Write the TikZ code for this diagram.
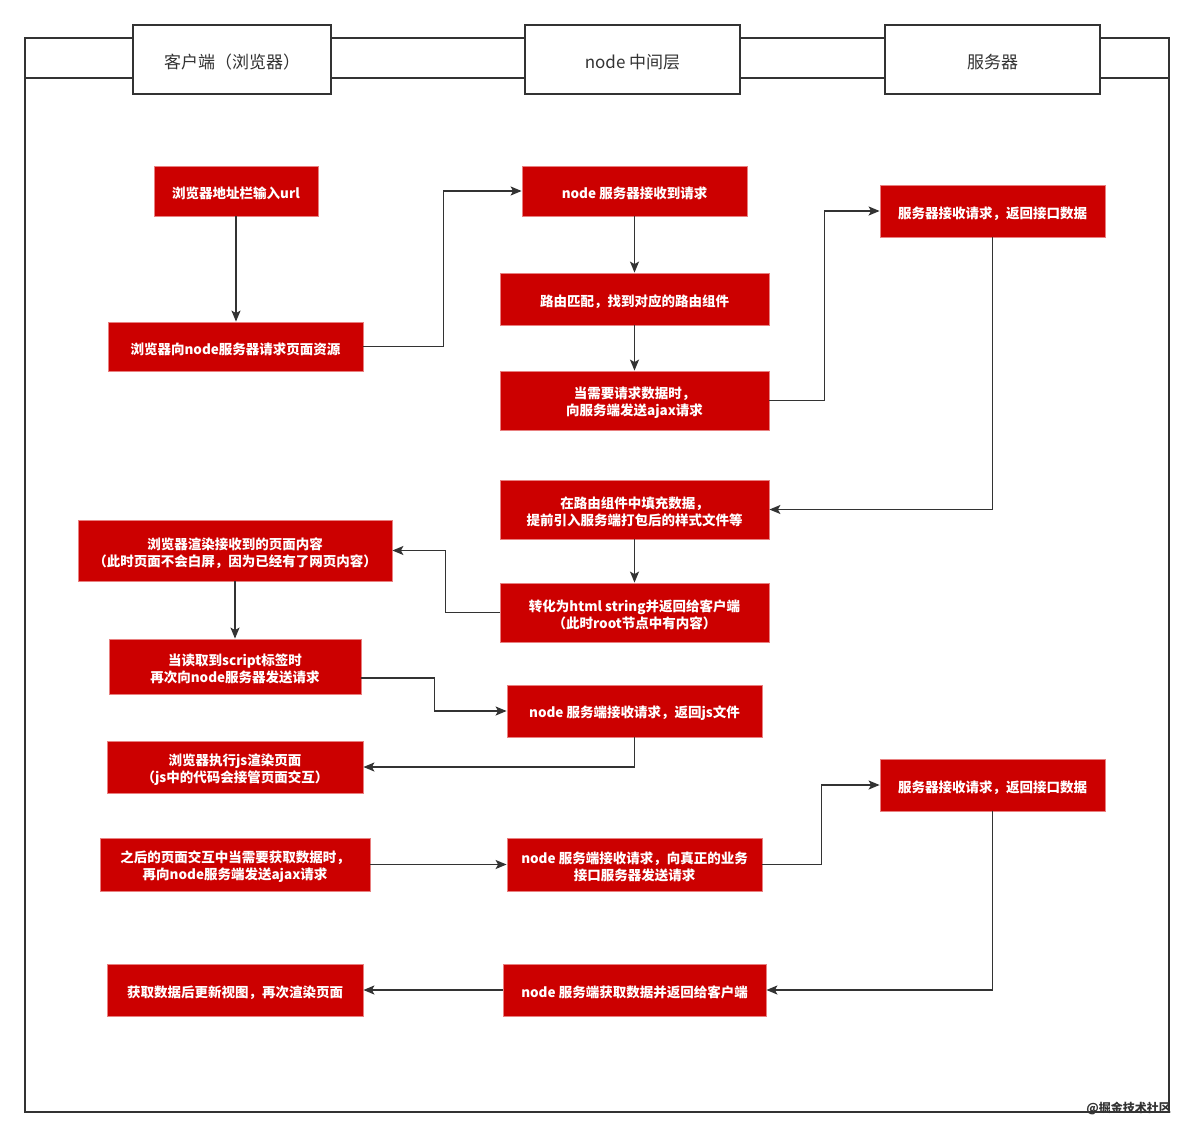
\documentclass[tikz,border=0pt]{standalone}
\usepackage{fontspec}
\setmainfont{Noto Sans CJK SC}
\usetikzlibrary{arrows.meta,calc}
\definecolor{boxred}{HTML}{CC0000}
\definecolor{boxedge}{HTML}{E88080}
\definecolor{ink}{HTML}{333333}
\begin{document}
\begin{tikzpicture}[x=1pt,y=-1pt,
  lane/.style={draw=ink,line width=2pt,fill=white,inner sep=0pt,
    minimum height=69pt},
  lanetext/.style={text=ink,inner sep=0pt,yshift=-2.5pt,
    font=\fontsize{17}{20}\selectfont},
  stepbox/.style={draw=boxedge,line width=0.8pt,fill=boxred,inner sep=0pt},
  steptext/.style={text=white,inner sep=0pt,align=center,yshift=-2.5pt,
    font=\fontsize{13.5}{17}\selectfont\bfseries},
  flow/.style={draw=ink,line width=1.5pt,
    -{Stealth[length=11pt,width=9pt,inset=2.5pt]}}]
\useasboundingbox (0,0) rectangle (1194,1137);

% outer swimlane frame and header band
\draw[ink,line width=2pt] (25,38) rectangle (1169,1112);
\draw[ink,line width=2pt] (25,78) -- (1169,78);
\node[lane,minimum width=198pt,label={[lanetext]center:客户端（浏览器）}] (h1) at (232,59.5) {};
\node[lane,minimum width=215pt,label={[lanetext]center:node 中间层}] (h2) at (632.5,59.5) {};
\node[lane,minimum width=215pt,label={[lanetext]center:服务器}] (h3) at (992.5,59.5) {};

% process steps
\node[stepbox,minimum width=164pt,minimum height=50pt,label={[steptext]center:浏览器地址栏输入url}] (A) at (236,191) {};
\node[stepbox,minimum width=255pt,minimum height=49pt,label={[steptext]center:浏览器向node服务器请求页面资源}] (B) at (235.5,346.5) {};
\node[stepbox,minimum width=225pt,minimum height=50pt,label={[steptext]center:node 服务器接收到请求}] (C) at (634.5,191) {};
\node[stepbox,minimum width=269pt,minimum height=52pt,label={[steptext]center:路由匹配，找到对应的路由组件}] (D) at (634.5,299) {};
\node[stepbox,minimum width=269pt,minimum height=59pt,label={[steptext]center:{当需要请求数据时，\\向服务端发送ajax请求}}] (E) at (634.5,400.5) {};
\node[stepbox,minimum width=225pt,minimum height=52pt,label={[steptext]center:服务器接收请求，返回接口数据}] (F) at (992.5,211) {};
\node[stepbox,minimum width=269pt,minimum height=59pt,label={[steptext]center:{在路由组件中填充数据，\\提前引入服务端打包后的样式文件等}}] (G) at (634.5,509.5) {};
\node[stepbox,minimum width=269pt,minimum height=59pt,label={[steptext]center:{转化为html string并返回给客户端\\（此时root节点中有内容）}}] (H) at (634.5,612.5) {};
\node[stepbox,minimum width=314pt,minimum height=61pt,label={[steptext]center:{浏览器渲染接收到的页面内容\\（此时页面不会白屏，因为已经有了网页内容）}}] (I) at (235,550.5) {};
\node[stepbox,minimum width=252pt,minimum height=55pt,label={[steptext]center:{当读取到script标签时\\再次向node服务器发送请求}}] (J) at (235,666.5) {};
\node[stepbox,minimum width=255pt,minimum height=52pt,label={[steptext]center:node 服务端接收请求，返回js文件}] (K) at (634.5,711) {};
\node[stepbox,minimum width=256pt,minimum height=52pt,label={[steptext]center:{浏览器执行js渲染页面\\（js中的代码会接管页面交互）}}] (L) at (235,767) {};
\node[stepbox,minimum width=270pt,minimum height=53pt,label={[steptext]center:{之后的页面交互中当需要获取数据时，\\再向node服务端发送ajax请求}}] (M) at (235,864.5) {};
\node[stepbox,minimum width=255pt,minimum height=53pt,label={[steptext]center:{node 服务端接收请求，向真正的业务\\接口服务器发送请求}}] (P) at (634.5,864.5) {};
\node[stepbox,minimum width=225pt,minimum height=52pt,label={[steptext]center:服务器接收请求，返回接口数据}] (Q) at (992.5,785) {};
\node[stepbox,minimum width=256pt,minimum height=52pt,label={[steptext]center:获取数据后更新视图，再次渲染页面}] (N) at (235,990) {};
\node[stepbox,minimum width=263pt,minimum height=52pt,label={[steptext]center:node 服务端获取数据并返回给客户端}] (O) at (634.5,990) {};

% connectors
\draw[flow] (A.south) -- (A.south |- B.north);
\draw[flow] (B.east) -- ++(80,0) |- (C.west);
\draw[flow] (C.south) -- (D.north);
\draw[flow] (D.south) -- (E.north);
\draw[flow] (E.east) -- ++(55,0) |- (F.west);
\draw[flow] (F.south) |- (G.east);
\draw[flow] (G.south) -- (H.north);
\draw[flow] (H.west) -- ++(-54,0) |- (I.east);
\draw[flow] (I.south) -- (J.north);
\coordinate (jout) at ($(J.east)+(0,11.5)$);
\draw[flow] (jout) -- ++(73,0) |- (K.west);
\draw[flow] (K.south) |- (L.east);
\draw[flow] (M.east) -- (P.west);
\draw[flow] (P.east) -- ++(59,0) |- (Q.west);
\draw[flow] (Q.south) |- (O.east);
\draw[flow] (O.west) -- (N.east);

% credit line
\node[anchor=east,inner sep=0pt,text=ink,font=\fontsize{12}{14}\selectfont\bfseries] (credit) at (1171,1108) {@掘金技术社区};
\end{tikzpicture}
\end{document}
